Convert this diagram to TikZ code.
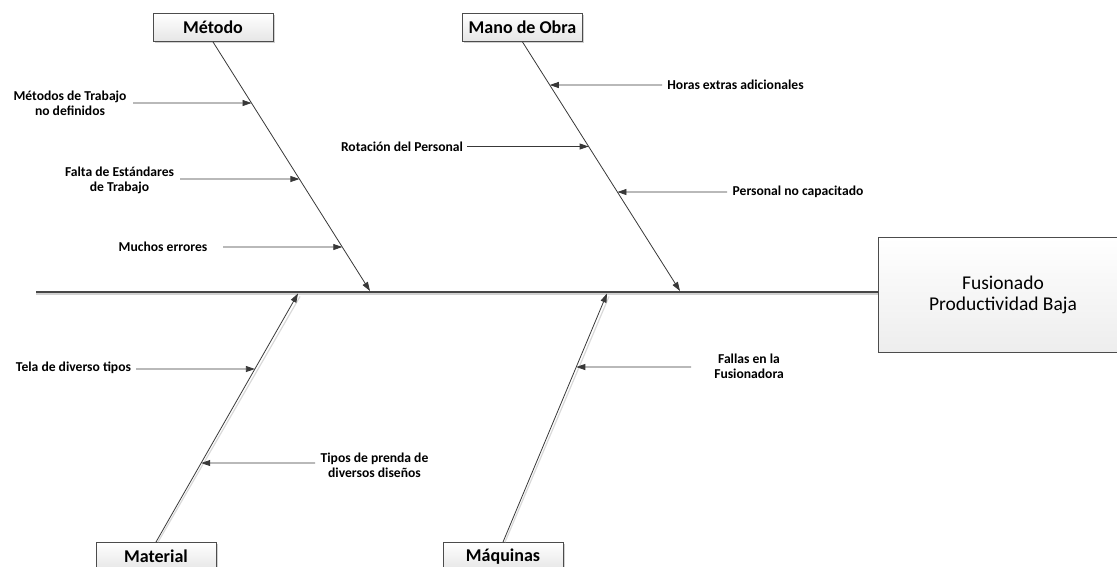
\documentclass[tikz,border=0pt]{standalone}
\usepackage{fontspec}
\setmainfont{Carlito}
\usetikzlibrary{arrows.meta,shadows}
\begin{document}
\begin{tikzpicture}[x=1pt,y=-1pt,
  catbox/.style={draw=black!70, line width=0.9pt, top color=white, bottom color=black!10,
    minimum width=120pt, minimum height=28pt, inner sep=0pt,
    font=\bfseries\fontsize{18}{20}\selectfont,
    drop shadow={shadow xshift=1.5pt, shadow yshift=-1.5pt, fill=black!30, opacity=0.6}},
  effbox/.style={draw=black!70, line width=0.9pt, top color=white, bottom color=black!7,
    minimum width=250pt, minimum height=115pt, inner sep=0pt, align=center,
    font=\fontsize{19.5}{21}\selectfont},
  bone/.style={draw=black!78, line width=0.8pt, -{Triangle[length=9pt,width=6pt]}},
  boneshade/.style={draw=black!15, line width=1.2pt},
  cause/.style={draw=black!78, line width=0.8pt, -{Triangle[length=9pt,width=6pt]}},
  lbl/.style={font=\bfseries\fontsize{13.6}{15}\selectfont, align=center, inner sep=0pt},
]
\useasboundingbox (0,0) rectangle (1117,567);
\clip (0,0) rectangle (1117,567);

% effect box and category headers
\node[effbox] (effect) at (1003,294.5) {Fusionado\\Productividad Baja};
\node[catbox] (metodo) at (213,27.5) {Método};
\node[catbox] (mano) at (522.5,27.5) {Mano de Obra};
\node[catbox] (material) at (156,556.5) {Material};
\node[catbox] (maquinas) at (503,556.5) {Máquinas};

% spine with its soft shadow just beneath
\coordinate (tail) at (36,292);
\coordinate (neck) at (effect.west |- tail);
\draw[draw=black!18, line width=2pt] ([yshift=-1.8pt]tail) -- ([yshift=-1.8pt]neck);
\draw[draw=black!72, line width=2.5pt] (tail) -- (neck);

% heads of the bones on the spine
\coordinate (hmet) at (370,291);
\coordinate (hman) at (680,291);
\coordinate (hmat) at (298,293.5);
\coordinate (hmaq) at (607,293.5);

% bones
\draw[boneshade] ([xshift=2pt]material.north) -- ([xshift=2pt,yshift=-3pt]hmat);
\draw[boneshade] ([xshift=2pt]maquinas.north) -- ([xshift=2pt,yshift=-3pt]hmaq);
\draw[bone] (metodo.south) -- (hmet);
\draw[bone] (mano.south) -- (hman);
\draw[bone] (material.north) -- (hmat);
\draw[bone] (maquinas.north) -- (hmaq);

% cause labels
\node[lbl] (c1) at (70,103.5) {Métodos de Trabajo\\no definidos};
\node[lbl] (c2) at (119.5,180) {Falta de Estándares\\de Trabajo};
\node[lbl] (c3) at (163,246.5) {Muchos errores};
\node[lbl] (c4) at (735.5,85) {Horas extras adicionales};
\node[lbl] (c5) at (402,147) {Rotación del Personal};
\node[lbl] (c6) at (798,192) {Personal no capacitado};
\node[lbl] (c7) at (73.5,368) {Tela de diverso tipos};
\node[lbl] (c8) at (374.5,465) {Tipos de prenda de\\diversos diseños};
\node[lbl] (c9) at (749,366.5) {Fallas en la\\Fusionadora};

% free ends of the cause arrows
\coordinate (s1) at (133,103);
\coordinate (s2) at (180,179);
\coordinate (s3) at (223,247);
\coordinate (s4) at (662,85);
\coordinate (s5) at (467,146.5);
\coordinate (s6) at (727,192);
\coordinate (s7) at (136,369);
\coordinate (s8) at (315,463);
\coordinate (s9) at (691,367);

% tips on the bones
\coordinate (t1) at (intersection of metodo.south--hmet and 0,103--1,103);
\coordinate (t2) at (intersection of metodo.south--hmet and 0,179--1,179);
\coordinate (t3) at (intersection of metodo.south--hmet and 0,247--1,247);
\coordinate (t4) at (intersection of mano.south--hman and 0,85--1,85);
\coordinate (t5) at (intersection of mano.south--hman and 0,146.5--1,146.5);
\coordinate (t6) at (intersection of mano.south--hman and 0,192--1,192);
\coordinate (t7) at (intersection of material.north--hmat and 0,369--1,369);
\coordinate (t8) at (intersection of material.north--hmat and 0,463--1,463);
\coordinate (t9) at (intersection of maquinas.north--hmaq and 0,367--1,367);

\foreach \i in {1,...,9} {\draw[cause] (s\i) -- (t\i);}
\end{tikzpicture}
\end{document}
